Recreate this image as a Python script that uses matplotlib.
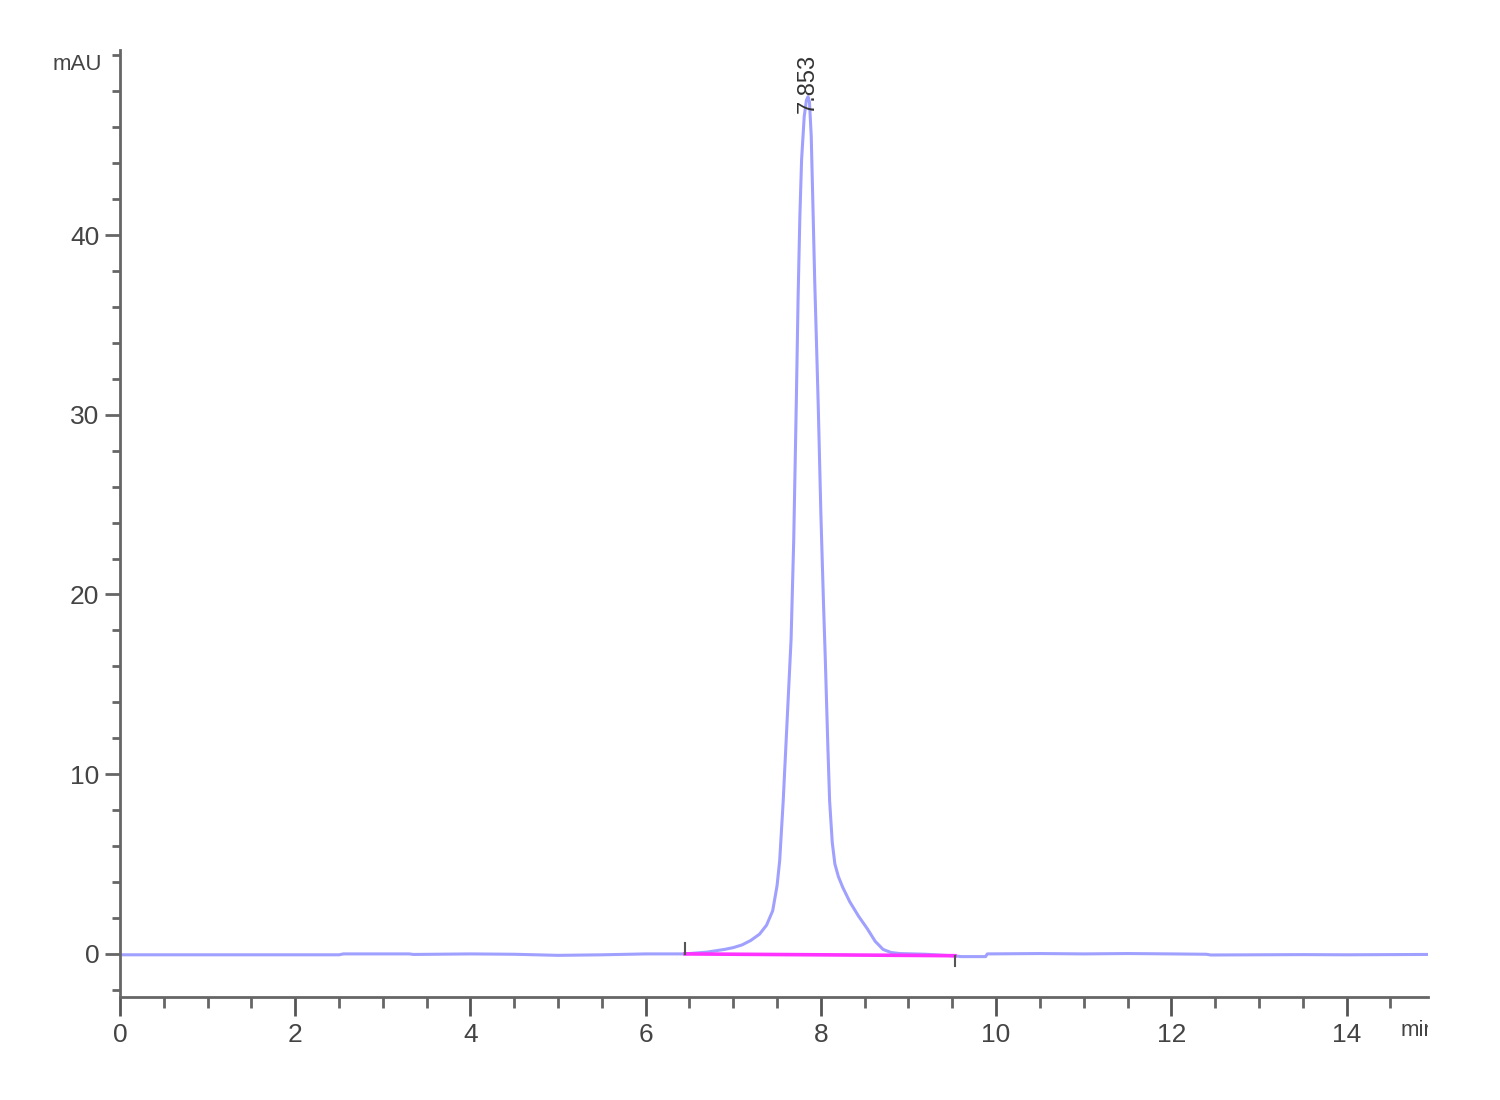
import numpy as np
import matplotlib
matplotlib.use('Agg')
import matplotlib.pyplot as plt
from matplotlib.ticker import MultipleLocator, FixedLocator

# chromatogram trace (min, mAU)
time_min = [0.0, 2.5, 2.55, 3.3, 3.35, 4.0, 4.5, 5.0, 5.5, 6.0, 6.45,
            6.7, 6.9, 7.0, 7.1, 7.2, 7.3, 7.38, 7.45, 7.50, 7.53, 7.57,
            7.61, 7.64, 7.66, 7.69, 7.72, 7.74, 7.76, 7.78, 7.81, 7.835,
            7.853, 7.87, 7.89, 7.91, 7.93, 7.95, 7.97, 8.00, 8.03, 8.05,
            8.08, 8.10, 8.13, 8.16, 8.20, 8.25, 8.33, 8.43, 8.53, 8.62,
            8.71, 8.80, 8.9, 9.2, 9.55, 9.6, 9.88, 9.9, 10.5, 11.0, 11.5,
            12.0, 12.4, 12.45, 13.5, 14.0, 14.93]
signal_mau = [-0.05, -0.05, 0.0, 0.0, -0.03, 0.0, -0.02, -0.08, -0.05, 0.0, 0.0,
              0.1, 0.25, 0.35, 0.5, 0.75, 1.1, 1.6, 2.4, 3.8, 5.2, 8.5,
              12.5, 15.5, 17.5, 23.0, 30.8, 36.5, 41.0, 44.2, 46.6, 47.5,
              47.7, 47.4, 45.5, 41.5, 37.4, 34.0, 30.5, 24.5, 19.5, 16.5,
              11.5, 8.5, 6.2, 5.0, 4.3, 3.7, 2.9, 2.1, 1.4, 0.7,
              0.25, 0.08, 0.02, -0.02, -0.12, -0.15, -0.15, 0.0, 0.02, 0.0, 0.02,
              0.0, -0.02, -0.06, -0.04, -0.05, -0.03]

# integration baseline
base_t = [6.45, 9.53]
base_y = [0.0, -0.1]
peak_rt = 7.853
peak_label = "7.853"

y_major = [0, 10, 20, 30, 40]

plt.rcParams['font.family'] = ['Liberation Sans', 'DejaVu Sans']

fig = plt.figure(figsize=(15, 11), dpi=100)
ax = fig.add_axes([0.08, 0.0936, 0.872, 0.861])

ax.plot(time_min, signal_mau, color='#8080ff', lw=2.2, alpha=0.75, zorder=2)
ax.plot(base_t, base_y, color='#ff33ff', lw=2.6, zorder=3)

# start / end marks of the integration
ax.plot([base_t[0], base_t[0]], [base_y[0], base_y[0] + 0.6], color='#555555', lw=1.5, zorder=4)
ax.plot([base_t[1], base_t[1]], [base_y[1], base_y[1] - 0.6], color='#555555', lw=1.5, zorder=4)

ax.text(peak_rt, 46.8, peak_label, rotation=90, ha='center', va='bottom',
        fontsize=17, color='#333333', clip_on=False, zorder=5)

ax.set_xlim(0, 14.93)
ax.set_ylim(-2.4, 50.3)

ax.xaxis.set_major_locator(MultipleLocator(2))
ax.xaxis.set_minor_locator(MultipleLocator(0.5))
ax.yaxis.set_major_locator(FixedLocator(y_major))
ax.yaxis.set_minor_locator(MultipleLocator(2))

for s in ['top', 'right']:
    ax.spines[s].set_visible(False)
for s in ['left', 'bottom']:
    ax.spines[s].set_color('#666666')
    ax.spines[s].set_linewidth(2)

ax.tick_params(axis='x', which='major', length=14, width=2, colors='#555555',
               labelcolor='#444444', labelsize=19, pad=5)
ax.tick_params(axis='x', which='minor', length=8, width=2, colors='#666666')
ax.tick_params(axis='y', which='major', length=11, width=2, colors='#666666',
               labelcolor='#444444', labelsize=19, pad=4)
ax.tick_params(axis='y', which='minor', length=6, width=2, colors='#666666')

fig.text(0.068, 0.941, 'mAU', ha='right', va='center', fontsize=16, color='#444444')
fig.text(0.934, 0.063, 'min', ha='left', va='center', fontsize=16, color='#444444')
# the unit label is cut at the right edge of the plot area
fig.patches.append(plt.Rectangle((0.952, 0.03), 0.05, 0.06, transform=fig.transFigure,
                                 facecolor='white', edgecolor='none', zorder=10))

fig.savefig('out.png', dpi=100, facecolor='white')
